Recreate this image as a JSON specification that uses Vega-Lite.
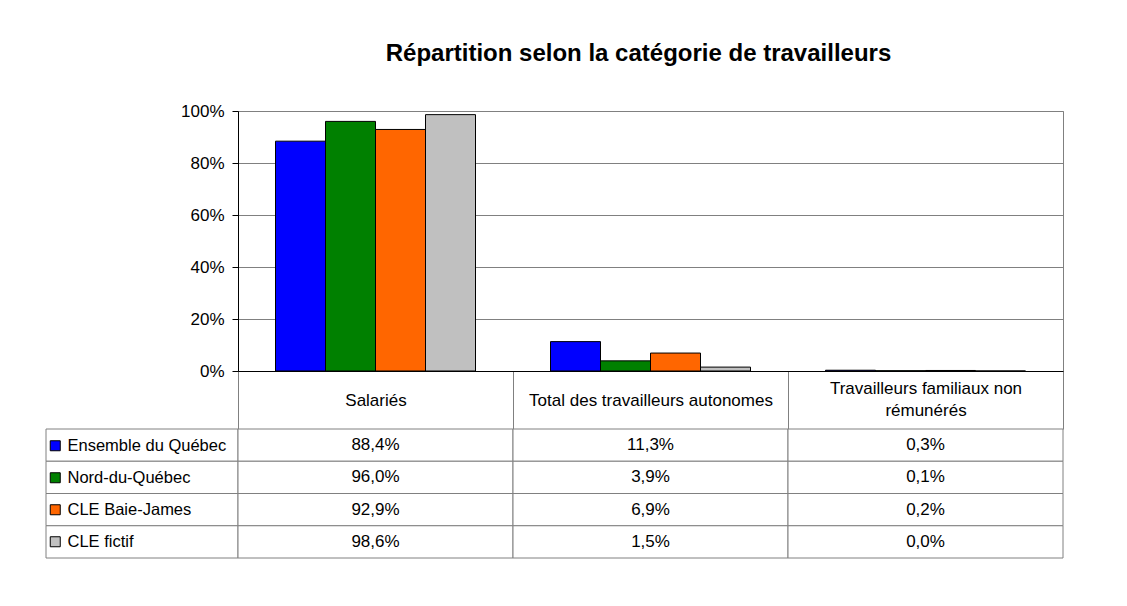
{
  "$schema": "https://vega.github.io/schema/vega-lite/v6.json",
  "padding": {"left": 45, "top": 41, "right": 10, "bottom": 10},
  "background": "white",
  "config": {
    "font": "Liberation Sans",
    "view": {"stroke": null},
    "locale": {"number": {"decimal": ",", "thousands": " ", "grouping": [3], "currency": ["", " $"]}},
    "axis": {"labelFont": "Liberation Sans", "labelFontSize": 17, "labelColor": "black", "title": null},
    "legend": {"labelFont": "Liberation Sans", "labelFontSize": 16.5, "labelColor": "black"}
  },
  "datasets": {
    "rows": [
      {"cat": "Salariés", "series": "Ensemble du Québec", "value": 0.884},
      {"cat": "Salariés", "series": "Nord-du-Québec", "value": 0.960},
      {"cat": "Salariés", "series": "CLE Baie-James", "value": 0.929},
      {"cat": "Salariés", "series": "CLE fictif", "value": 0.986},
      {"cat": "Total des travailleurs autonomes", "series": "Ensemble du Québec", "value": 0.113},
      {"cat": "Total des travailleurs autonomes", "series": "Nord-du-Québec", "value": 0.039},
      {"cat": "Total des travailleurs autonomes", "series": "CLE Baie-James", "value": 0.069},
      {"cat": "Total des travailleurs autonomes", "series": "CLE fictif", "value": 0.015},
      {"cat": "Travailleurs familiaux non rémunérés", "series": "Ensemble du Québec", "value": 0.003},
      {"cat": "Travailleurs familiaux non rémunérés", "series": "Nord-du-Québec", "value": 0.001},
      {"cat": "Travailleurs familiaux non rémunérés", "series": "CLE Baie-James", "value": 0.002},
      {"cat": "Travailleurs familiaux non rémunérés", "series": "CLE fictif", "value": 0.000}
    ]
  },
  "data": {"name": "rows"},
  "columns": 2,
  "spacing": {"row": 58, "column": 0},
  "bounds": "flush",
  "concat": [
    {
      "width": 192,
      "height": 260,
      "data": {"values": [{}]},
      "mark": {"type": "text"},
      "encoding": {"text": {"value": ""}}
    },
    {
      "width": 825,
      "height": 260,
      "view": {"stroke": "#808080"},
      "title": {
        "text": "Répartition selon la catégorie de travailleurs",
        "anchor": "middle",
        "dx": -12,
        "offset": 17,
        "baseline": "alphabetic",
        "font": "Liberation Sans",
        "fontSize": 24,
        "fontWeight": "bold",
        "color": "black"
      },
      "mark": {"type": "bar", "stroke": "black", "strokeWidth": 1},
      "encoding": {
        "x": {
          "field": "cat",
          "type": "nominal",
          "sort": ["Salariés", "Total des travailleurs autonomes", "Travailleurs familiaux non rémunérés"],
          "scale": {"paddingInner": 0, "paddingOuter": 0},
          "axis": {
            "orient": "bottom",
            "domainColor": "black",
            "tickBand": "extent",
            "tickSize": 58,
            "tickColor": "#808080",
            "labelPadding": {
              "condition": {"test": "datum.value == 'Travailleurs familiaux non rémunérés'", "value": -41},
              "value": -29
            },
            "labelBaseline": "middle",
            "labelAngle": 0,
            "labelFontSize": 17,
            "labelLimit": 400,
            "labelLineHeight": 22,
            "labelExpr": "datum.label == 'Travailleurs familiaux non rémunérés' ? ['Travailleurs familiaux non', 'rémunérés'] : datum.label",
            "grid": false
          }
        },
        "xOffset": {
          "field": "series",
          "type": "nominal",
          "sort": ["Ensemble du Québec", "Nord-du-Québec", "CLE Baie-James", "CLE fictif"],
          "scale": {"paddingInner": 0, "paddingOuter": 0.75}
        },
        "y": {
          "field": "value",
          "type": "quantitative",
          "scale": {"domain": [0, 1]},
          "axis": {
            "format": ".0%",
            "values": [0, 0.2, 0.4, 0.6, 0.8, 1],
            "grid": true,
            "gridColor": "#808080",
            "domainColor": "black",
            "tickColor": "black",
            "tickSize": 6,
            "labelPadding": 8,
            "labelFontSize": 17
          }
        },
        "color": {
          "field": "series",
          "type": "nominal",
          "sort": ["Ensemble du Québec", "Nord-du-Québec", "CLE Baie-James", "CLE fictif"],
          "scale": {
            "domain": ["Ensemble du Québec", "Nord-du-Québec", "CLE Baie-James", "CLE fictif"],
            "range": ["#0000FF", "#008000", "#FF6600", "#C0C0C0"]
          },
          "legend": {
            "orient": "none",
            "legendX": 1,
            "legendY": 326.5,
            "title": null,
            "padding": 0,
            "symbolType": "square",
            "symbolSize": 100,
            "symbolStrokeColor": "black",
            "symbolStrokeWidth": 1,
            "labelOffset": 4,
            "rowPadding": 15,
            "labelLimit": 300
          }
        }
      }
    },
    {
      "width": 192,
      "height": 129,
      "transform": [{"filter": "datum.cat == 'Salariés'"}],
      "mark": {"type": "rect", "fill": "white", "stroke": "#808080", "strokeWidth": 1},
      "encoding": {
        "y": {
          "field": "series",
          "type": "nominal",
          "sort": ["Ensemble du Québec", "Nord-du-Québec", "CLE Baie-James", "CLE fictif"],
          "scale": {"paddingInner": 0, "paddingOuter": 0},
          "axis": null
        }
      }
    },
    {
      "width": 825,
      "height": 129,
      "encoding": {
        "x": {
          "field": "cat",
          "type": "nominal",
          "sort": ["Salariés", "Total des travailleurs autonomes", "Travailleurs familiaux non rémunérés"],
          "scale": {"paddingInner": 0, "paddingOuter": 0},
          "axis": null
        },
        "y": {
          "field": "series",
          "type": "nominal",
          "sort": ["Ensemble du Québec", "Nord-du-Québec", "CLE Baie-James", "CLE fictif"],
          "scale": {"paddingInner": 0, "paddingOuter": 0},
          "axis": null
        }
      },
      "layer": [
        {"mark": {"type": "rect", "fill": "white", "stroke": "#808080", "strokeWidth": 1}},
        {
          "mark": {"type": "text", "font": "Liberation Sans", "fontSize": 17, "color": "black"},
          "encoding": {"text": {"field": "value", "type": "quantitative", "format": ".1%"}}
        }
      ]
    }
  ]
}
